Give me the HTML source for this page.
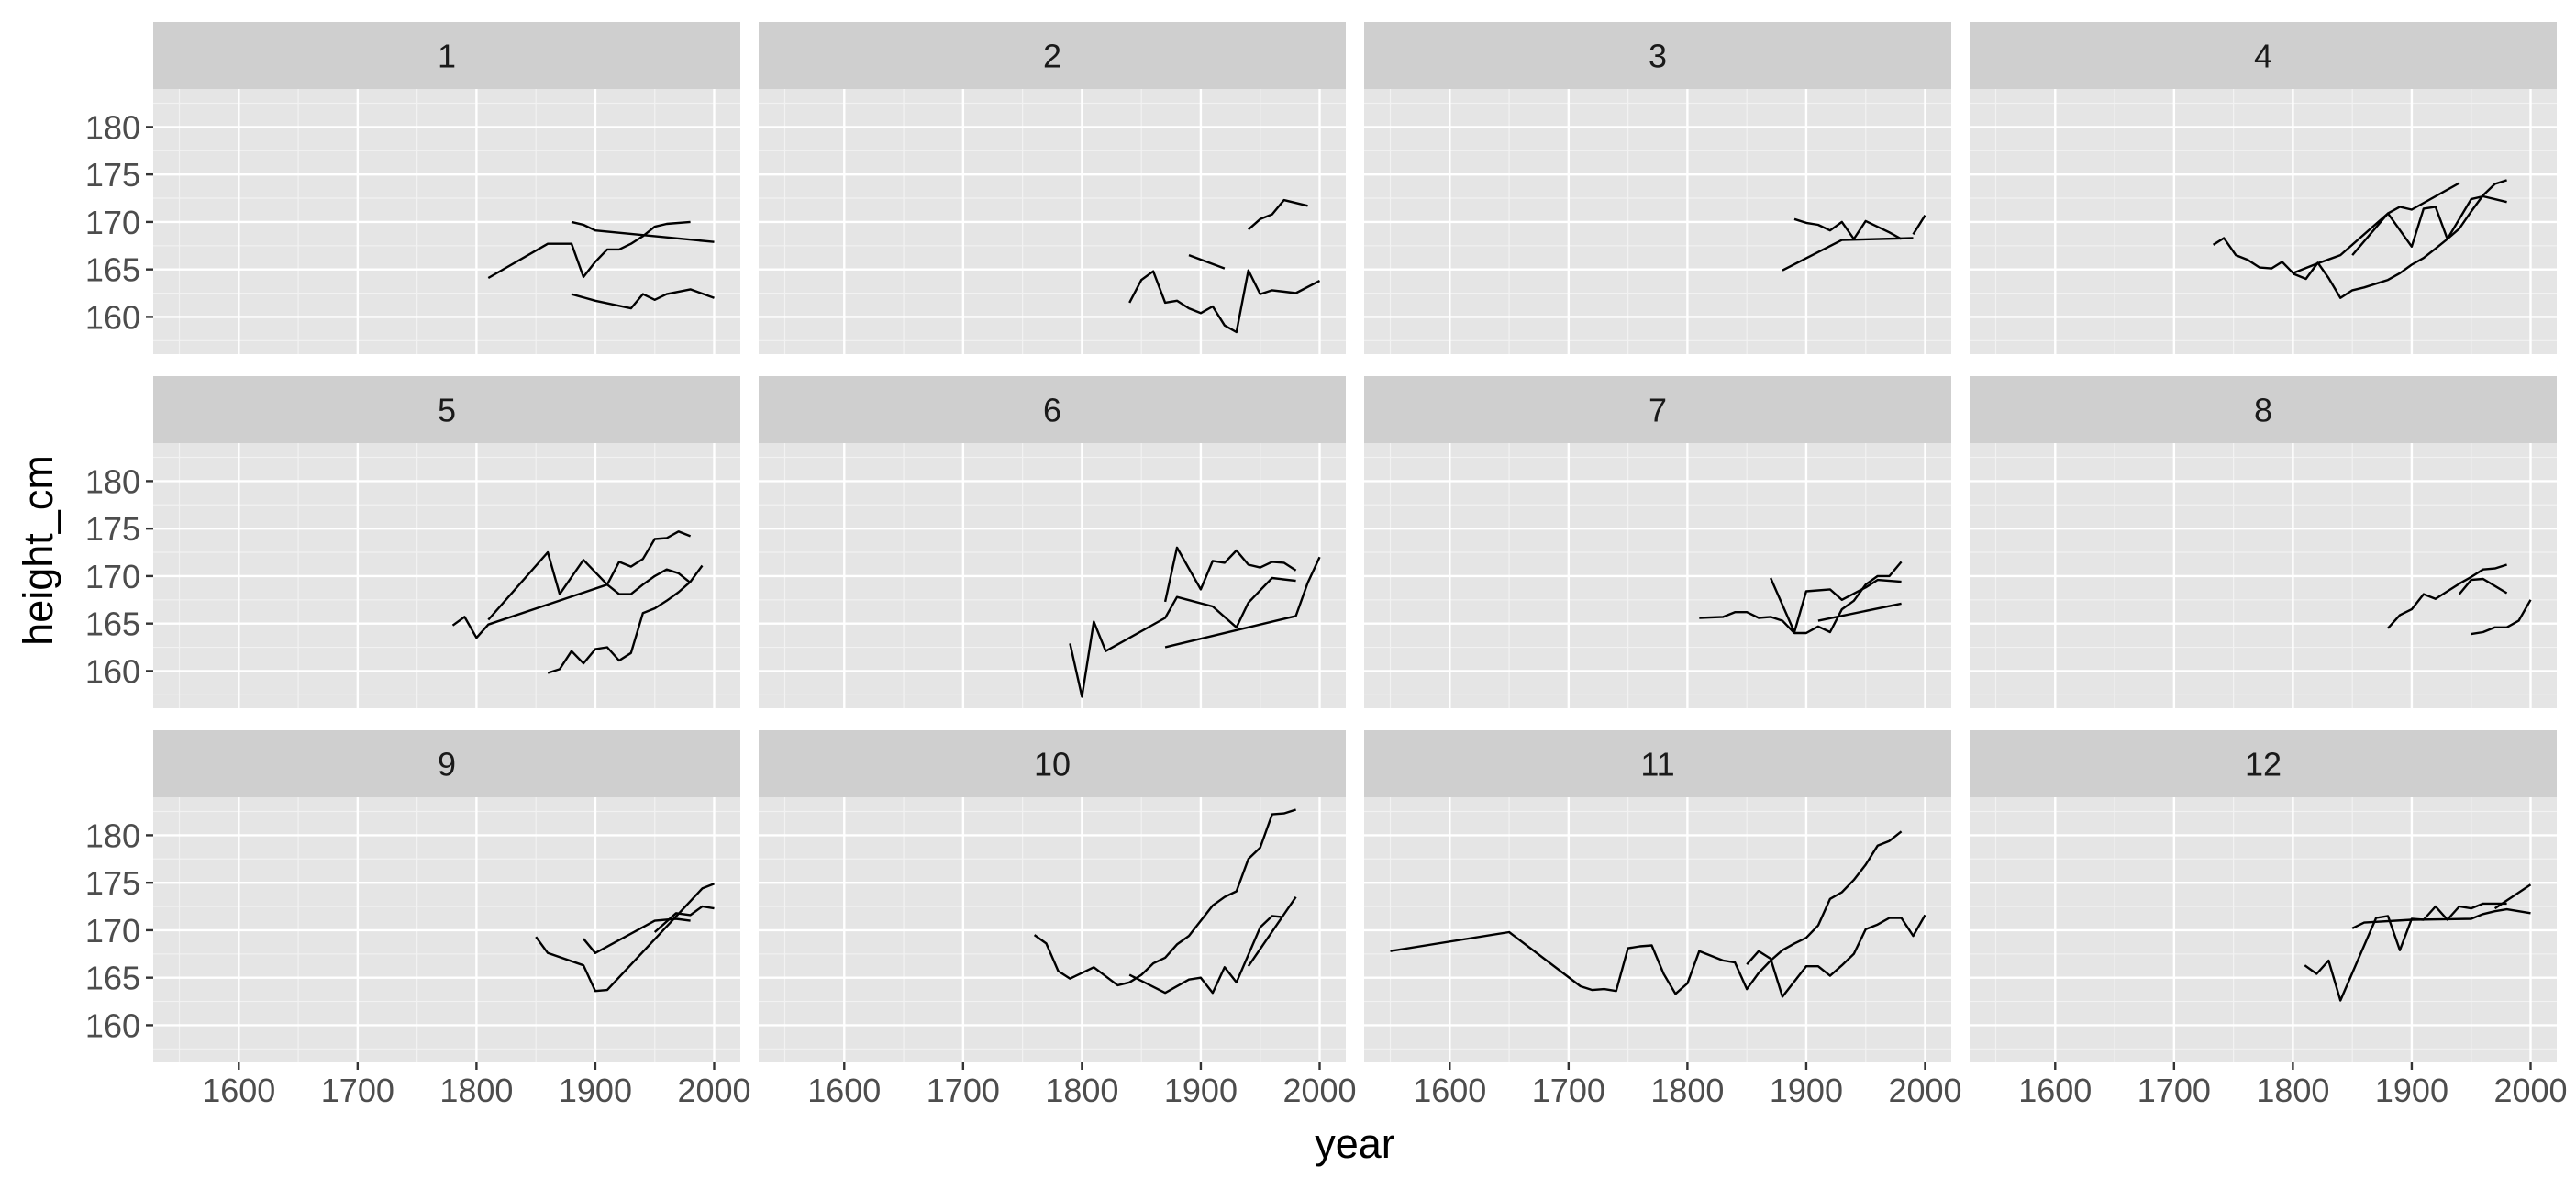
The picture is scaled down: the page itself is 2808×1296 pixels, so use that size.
<!DOCTYPE html>
<html><head><meta charset="utf-8"><style>
html,body{margin:0;padding:0;background:#fff;}
svg{display:block;font-family:"Liberation Sans",Arial,sans-serif;}
</style></head><body>
<svg id="chart" width="2808" height="1296" viewBox="0 0 2808 1296" xmlns="http://www.w3.org/2000/svg">
<rect x="0" y="0" width="2808" height="1296" fill="#ffffff"/>
<text x="1477" y="1262" font-size="45" text-anchor="middle" fill="#000">year</text>
<text x="0" y="0" font-size="45" text-anchor="middle" fill="#000" transform="translate(57,600) rotate(-90)">height_cm</text>
</svg>
<script>
const panelLabels = ["1","2","3","4","5","6","7","8","9","10","11","12"];
const xTicks = [1600,1700,1800,1900,2000];
const yTicks = [160,165,170,175,180];
// each panel: array of series; each series: [years],[heights]
const panelYears = [
 [[1810,1860,1880,1890,1900,1910,1920,1930,1940,1950,1960,1980],[1880,1890,1900,2000],[1880,1900,1930,1940,1950,1960,1980,2000]],
 [[1840,1850,1860,1870,1880,1890,1900,1910,1920,1930,1940,1950,1960,1980,2000],[1890,1920],[1940,1950,1960,1970,1990]],
 [[1890,1900,1910,1920,1930,1940,1950,1970,1980],[1880,1930,1990],[1990,2000]],
 [[1733,1742,1752,1762,1772,1782,1791,1801,1811,1821,1830,1840,1850,1860,1870,1880,1890,1900,1910,1920,1930,1940,1950,1960,1970,1980],[1800,1820,1840,1880,1890,1900,1940],[1850,1880,1900,1910,1920,1930,1950,1960,1980]],
 [[1780,1790,1800,1810,1910,1920,1930,1940,1950,1960,1970,1980],[1810,1860,1870,1890,1910,1920,1930,1940,1950,1960,1970,1980],[1860,1870,1880,1890,1900,1910,1920,1930,1940,1950,1960,1970,1980,1990]],
 [[1790,1800,1810,1820,1870,1880,1910,1930,1940,1950,1960,1980],[1870,1880,1900,1910,1920,1930,1940,1950,1960,1970,1980],[1870,1980,1990,2000]],
 [[1810,1830,1840,1850,1860,1870,1880,1890,1900,1910,1920,1930,1940,1950,1960,1970,1980],[1870,1890,1900,1920,1930,1950,1960,1980],[1910,1980]],
 [[1880,1890,1900,1910,1920,1930,1940,1950,1960,1970,1980],[1940,1950,1960,1980],[1950,1960,1970,1980,1990,2000]],
 [[1850,1860,1890,1900,1910,1990,2000],[1890,1900,1950,1968,1980],[1950,1968,1980,1990,2000]],
 [[1760,1770,1780,1790,1810,1830,1840,1850,1860,1870,1880,1890,1900,1910,1920,1930,1940,1950,1960,1970,1980],[1840,1870,1890,1900,1910,1920,1930,1950,1960,1968],[1940,1980]],
 [[1550,1650,1710,1720,1730,1740,1750,1760,1770,1780,1790,1800,1810,1820,1830,1840,1850,1860,1870,1880,1890,1900,1910,1920,1930,1940,1950,1960,1970,1980],[1850,1860,1870,1880,1900,1910,1920,1930,1940,1950,1960,1970,1980,1990,2000]],
 [[1810,1820,1830,1840,1870,1880,1890,1900,1910,1920,1930,1940,1950,1960,1980],[1850,1860,1900,1950,1960,1970,1980,2000],[1970,2000]]
];
const panelHeights = [
 [[164.1,167.7,167.7,164.2,165.8,167.1,167.1,167.7,168.5,169.5,169.8,170.0],[170.0,169.7,169.1,167.9],[162.4,161.7,160.9,162.4,161.8,162.4,162.9,162.0]],
 [[161.5,163.9,164.8,161.5,161.7,160.9,160.4,161.1,159.1,158.4,164.9,162.4,162.8,162.5,163.8],[166.5,165.1],[169.2,170.3,170.8,172.3,171.7]],
 [[170.3,169.9,169.7,169.1,170.0,168.2,170.1,168.9,168.2],[164.9,168.1,168.3],[168.7,170.7]],
 [[167.6,168.3,166.5,166.0,165.2,165.1,165.8,164.5,164.0,165.7,164.1,162.0,162.8,163.1,163.5,163.9,164.6,165.5,166.2,167.2,168.2,169.3,171.1,172.8,174.0,174.4],[164.6,165.6,166.5,170.9,171.6,171.3,174.1],[166.5,170.9,167.4,171.4,171.6,168.2,172.4,172.7,172.1]],
 [[164.8,165.7,163.5,164.9,169.1,168.1,168.1,169.1,170.0,170.7,170.3,169.3],[165.4,172.5,168.1,171.7,169.1,171.5,171.0,171.8,173.9,174.0,174.7,174.2],[159.8,160.2,162.1,160.8,162.3,162.5,161.1,161.9,166.1,166.6,167.4,168.3,169.4,171.1]],
 [[162.9,157.3,165.2,162.1,165.6,167.8,166.8,164.6,167.2,168.5,169.8,169.5],[167.3,173.0,168.6,171.6,171.4,172.7,171.2,170.9,171.5,171.4,170.6],[162.5,165.8,169.3,172.0]],
 [[165.6,165.7,166.2,166.2,165.6,165.7,165.3,164.0,164.0,164.7,164.1,166.5,167.4,169.1,170.0,170.0,171.5],[169.8,164.1,168.4,168.6,167.5,168.8,169.6,169.4],[165.3,167.1]],
 [[164.5,165.9,166.5,168.1,167.6,168.4,169.2,169.9,170.7,170.8,171.2],[168.1,169.6,169.7,168.2],[163.9,164.1,164.6,164.6,165.3,167.5]],
 [[169.3,167.6,166.3,163.6,163.7,174.4,174.9],[169.1,167.6,171.0,171.2,171.0],[169.8,171.8,171.6,172.5,172.3]],
 [[169.5,168.6,165.7,164.9,166.1,164.2,164.5,165.3,166.5,167.1,168.5,169.4,171.0,172.6,173.5,174.1,177.5,178.7,182.2,182.3,182.7],[165.3,163.4,164.8,165.0,163.4,166.1,164.5,170.3,171.5,171.4],[166.2,173.5]],
 [[167.8,169.8,164.1,163.7,163.8,163.6,168.1,168.3,168.4,165.4,163.3,164.4,167.8,167.3,166.8,166.6,163.8,165.5,166.8,167.9,168.6,169.2,170.5,173.3,174.0,175.3,176.9,178.9,179.4,180.4],[166.4,167.8,167.0,163.0,166.2,166.2,165.2,166.3,167.5,170.1,170.6,171.3,171.3,169.4,171.6]],
 [[166.3,165.4,166.8,162.6,171.3,171.5,167.9,171.2,171.1,172.5,171.1,172.5,172.3,172.8,172.8],[170.2,170.8,171.1,171.2,171.7,172.0,172.2,171.8],[172.3,174.8]]
];

const NS = "http://www.w3.org/2000/svg";
const svg = document.getElementById("chart");
const colLeft = [167, 827, 1487, 2147];
const rowTop = [24, 410, 796];
const PW = 640, SH = 73, PH = 289;
const X0 = 1528, X1 = 2022, Y0 = 156.08, Y1 = 184;
function sx(left, v){ return left + (v - X0) / (X1 - X0) * PW; }
function sy(top, v){ return top + PH - (v - Y0) / (Y1 - Y0) * PH; }
function mk(tag, attrs, parent){
  const e = document.createElementNS(NS, tag);
  for (const k in attrs) e.setAttribute(k, attrs[k]);
  (parent || svg).appendChild(e);
  return e;
}

panelLabels.forEach((label, i) => {
  const left = colLeft[i % 4];
  const row = Math.floor(i / 4);
  const stripTop = rowTop[row];
  const top = stripTop + SH;
  const g = mk("g", {});
  
  
  const strip = mk("rect", {x: left, y: stripTop, width: PW, height: SH, fill: "#cfcfcf"}, g);
  
  
  const st = mk("text", {x: left + PW/2, y: stripTop + SH/2 + 13, "font-size": 36, "text-anchor": "middle", fill: "#1a1a1a"}, g);
  
  
  st.textContent = label;
  const bg = mk("rect", {x: left, y: top, width: PW, height: PH, fill: "#e5e5e5"}, g);
  
  
  for (let yv = 157.5; yv < Y1; yv += 5) {
    const l = mk("line", {x1: left, x2: left + PW, y1: sy(top, yv), y2: sy(top, yv), stroke: "#f2f2f2", "stroke-width": 1.2}, g);
    
    
  }
  for (let xv = 1550; xv < X1; xv += 100) {
    const l = mk("line", {x1: sx(left, xv), x2: sx(left, xv), y1: top, y2: top + PH, stroke: "#f2f2f2", "stroke-width": 1.2}, g);
    
    
  }
  yTicks.forEach(yv => {
    const l = mk("line", {x1: left, x2: left + PW, y1: sy(top, yv), y2: sy(top, yv), stroke: "#fff", "stroke-width": 2.4}, g);
    
    
  });
  xTicks.forEach(xv => {
    const l = mk("line", {x1: sx(left, xv), x2: sx(left, xv), y1: top, y2: top + PH, stroke: "#fff", "stroke-width": 2.4}, g);
    
    
  });
  if (i % 4 === 0) {
    yTicks.forEach(yv => {
      const t = mk("line", {x1: left - 8, x2: left, y1: sy(top, yv), y2: sy(top, yv), stroke: "#333", "stroke-width": 2.4}, g);
      
      
      const tx = mk("text", {x: left - 14, y: sy(top, yv) + 13, "font-size": 36, "text-anchor": "end", fill: "#4d4d4d"}, g);
      
      
      tx.textContent = yv;
    });
  }
  if (row === 2) {
    xTicks.forEach(xv => {
      const t = mk("line", {x1: sx(left, xv), x2: sx(left, xv), y1: top + PH, y2: top + PH + 8, stroke: "#333", "stroke-width": 2.4}, g);
      
      
      const tx = mk("text", {x: sx(left, xv), y: top + PH + 43, "font-size": 36, "text-anchor": "middle", fill: "#4d4d4d"}, g);
      
      
      tx.textContent = xv;
    });
  }
  panelYears[i].forEach((yrs, s) => {
    const hs = panelHeights[i][s];
    const pts = yrs.map((yr, k) => sx(left, yr).toFixed(1) + "," + sy(top, hs[k]).toFixed(1)).join(" ");
    const pl = mk("polyline", {points: pts, fill: "none", stroke: "#000", "stroke-width": 2.4, "stroke-linejoin": "round"}, g);
    
    
  });
});
</script>
</body></html>
